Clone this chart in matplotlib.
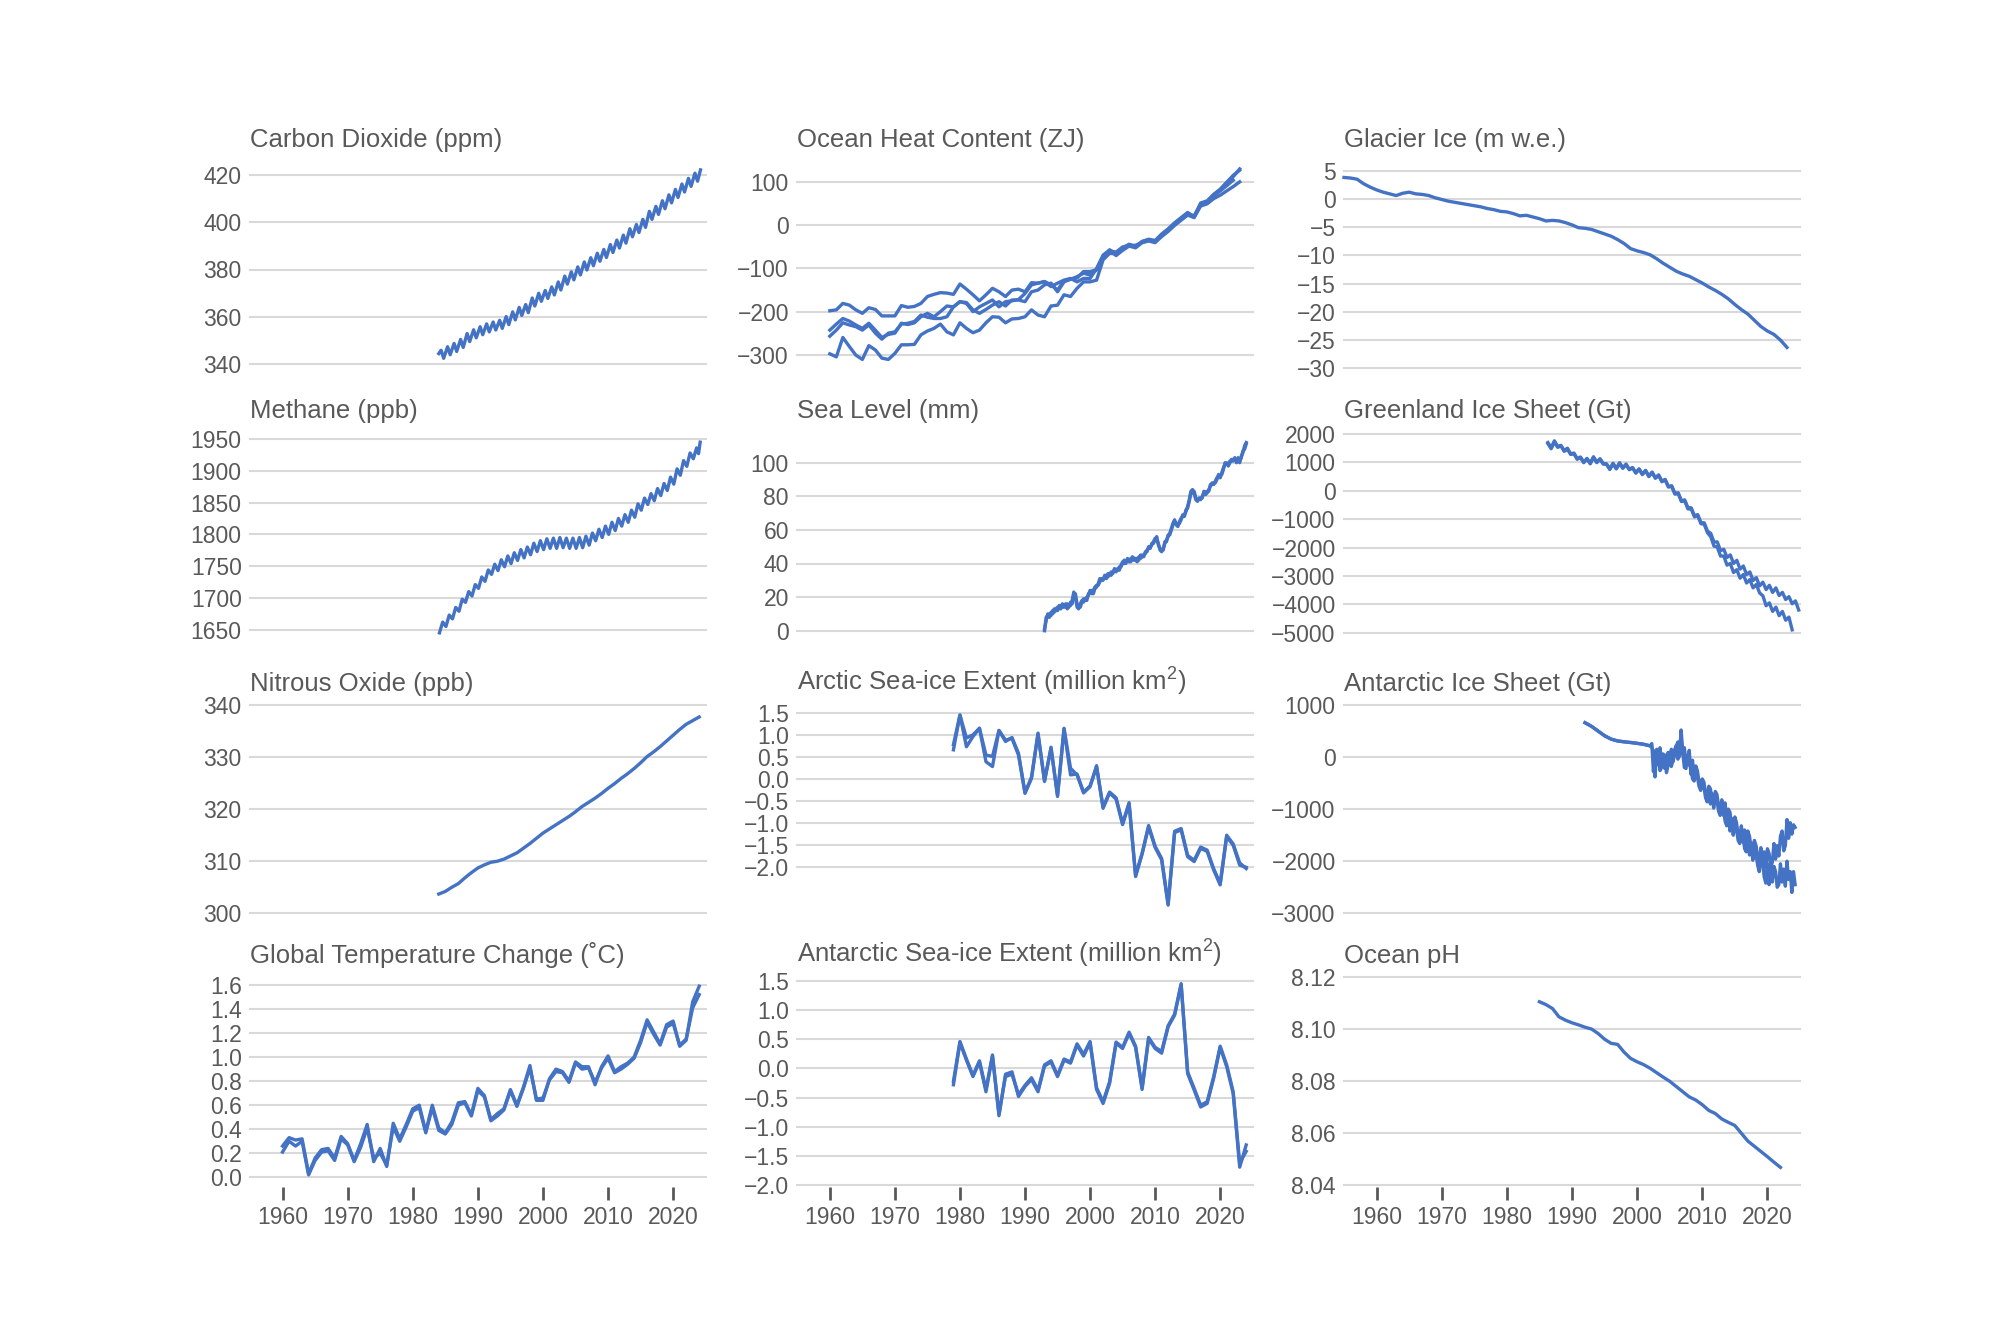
import numpy as np
import matplotlib.pyplot as plt

# ---------------- data ----------------
# Carbon dioxide, seasonal high / low per year 1984-2023 (ppm)
co2_years = np.arange(1984, 2024)
co2_hi = [345.7, 347.2, 348.6, 350.3, 352.8, 354.4, 355.7, 356.9, 357.7, 358.4,
          360.0, 362.0, 363.9, 365.1, 367.9, 369.9, 371.1, 372.6, 374.7, 377.2,
          379.0, 381.1, 383.2, 385.0, 386.9, 388.5, 390.6, 392.5, 394.6, 397.3,
          399.1, 401.3, 404.7, 406.8, 409.2, 411.7, 414.0, 416.3, 418.7, 420.9]
co2_lo = [342.3, 343.8, 345.2, 346.9, 349.4, 351.0, 352.3, 353.5, 354.3, 355.0,
          356.6, 358.6, 360.5, 361.7, 364.5, 366.5, 367.7, 369.2, 371.3, 373.8,
          375.6, 377.7, 379.8, 381.6, 383.5, 385.1, 387.2, 389.1, 391.2, 393.9,
          395.7, 397.9, 401.3, 403.4, 405.8, 408.3, 410.6, 412.9, 415.3, 417.5]
co2_end = (2024.2, 422.3)

# Ocean heat content (ZJ), four reconstructions
ohc_years = np.arange(1960, 2024)
ohc_a = [-198, -196, -181, -185, -196, -204, -191, -195, -210, -210,
         -210, -186, -190, -188, -181, -165, -160, -156, -157, -160,
         -136, -148, -161, -175, -161, -146, -154, -165, -150, -148,
         -154, -133, -134, -130, -138, -150, -128, -125, -122, -107,
         -107, -103, -75, -57, -64, -52, -44, -49, -37, -33,
         -37, -22, -10, 5, 17, 28, 21, 50, 55, 71,
         82, 98, 113, 131]
ohc_b = [-243, -229, -216, -222, -231, -239, -227, -243, -260, -253,
         -250, -227, -230, -226, -212, -204, -212, -200, -187, -189,
         -177, -179, -196, -204, -195, -185, -177, -187, -173, -173,
         -177, -154, -150, -138, -134, -154, -131, -125, -119, -111,
         -115, -103, -73, -61, -62, -50, -47, -46, -40, -35,
         -36, -24, -12, 2, 14, 26, 22, 47, 53, 68,
         80, 92, 105]
ohc_c = [-257, -243, -226, -231, -235, -243, -231, -250, -264, -250,
         -247, -229, -227, -223, -208, -213, -216, -216, -212, -189,
         -177, -181, -200, -189, -181, -173, -189, -177, -175, -172,
         -158, -138, -134, -131, -142, -134, -127, -123, -131, -123,
         -123, -100, -69, -57, -70, -58, -48, -52, -40, -36,
         -40, -26, -14, 0, 12, 24, 18, 45, 50, 62,
         70, 80, 90, 101]
ohc_d = [-298, -305, -260, -281, -301, -311, -279, -289, -308, -311,
         -297, -277, -277, -276, -254, -245, -239, -229, -247, -254,
         -226, -239, -249, -243, -226, -212, -213, -226, -217, -216,
         -212, -196, -208, -212, -187, -185, -161, -165, -146, -131,
         -131, -127, -80, -65, -66, -55, -44, -50, -38, -32,
         -35, -20, -8, 6, 18, 30, 20, 52, 57, 72,
         84, 100, 116, 128]

# Glacier ice, cumulative (m w.e.)
glacier_years = np.arange(1955, 2024)
glacier = [3.8, 3.7, 3.5, 2.7, 2.1,
           1.6, 1.2, 0.9, 0.6, 1.0, 1.2, 0.9, 0.8, 0.6, 0.2,
           -0.1, -0.4, -0.6, -0.8, -1.0, -1.2, -1.4, -1.7, -1.9, -2.2,
           -2.3, -2.6, -3.0, -2.9, -3.2, -3.5, -3.9, -3.8, -3.9, -4.2,
           -4.6, -5.1, -5.2, -5.4, -5.8, -6.2, -6.6, -7.2, -7.9, -8.8,
           -9.2, -9.5, -9.9, -10.6, -11.4, -12.1, -12.8, -13.3, -13.7, -14.3,
           -14.9, -15.6, -16.2, -16.9, -17.7, -18.7, -19.6, -20.4, -21.5, -22.6,
           -23.4, -24.0, -25.0, -26.3]

# Methane, seasonal low / high per year 1984-2023 (ppb)
ch4_years = np.arange(1984, 2024)
ch4_lo = [1645, 1655, 1667, 1679, 1693, 1703, 1715, 1726, 1737, 1743,
          1749, 1754, 1759, 1763, 1768, 1773, 1776, 1778, 1778, 1779,
          1778, 1778, 1779, 1783, 1790, 1795, 1800, 1806, 1813, 1819,
          1827, 1838, 1847, 1853, 1861, 1869, 1879, 1893, 1907, 1919]
ch4_hi = [1662, 1673, 1685, 1698, 1710, 1721, 1733, 1744, 1753, 1760,
          1766, 1771, 1776, 1780, 1786, 1790, 1793, 1794, 1795, 1794,
          1794, 1795, 1797, 1802, 1808, 1813, 1819, 1825, 1831, 1838,
          1848, 1857, 1864, 1872, 1880, 1890, 1903, 1916, 1928, 1936]
ch4_end_t = [2023.9, 2024.15]
ch4_end_v = [1927, 1945]

# Sea level (mm), quarterly 1993.0-2024.0, two records
sea_t = np.arange(1993, 2024.01, 0.25)
sea_level_a = [0, 8, 9, 10, 9, 12, 11, 13, 14, 13, 15, 14, 14, 16, 13, 15,
               15, 18, 23, 20, 14, 13, 16, 18, 17, 19, 18, 22, 23, 24, 22, 25,
               26, 28, 31, 30, 31, 32, 33, 32, 34, 33, 35, 36, 35, 37, 36, 39,
               41, 40, 41, 42, 41, 43, 42, 42, 42, 41, 44, 43, 44, 45, 46, 48,
               49, 50, 51, 53, 55, 54, 52, 48, 47, 49, 52, 54, 56, 58, 61, 64,
               66, 63, 62, 65, 67, 68, 69, 71, 74, 78, 83, 84, 82, 78, 77, 79,
               78, 80, 82, 81, 82, 84, 86, 88, 87, 89, 91, 92, 91, 94, 97, 99,
               100, 98, 100, 102, 101, 103, 100, 102, 100, 104, 106, 110, 112]
sea_level_b = [1, 6, 10, 8, 11, 10, 13, 12, 12, 15, 13, 16, 15, 14, 16, 14,
               17, 16, 21, 22, 16, 15, 14, 17, 19, 18, 20, 21, 24, 22, 24, 26,
               27, 27, 29, 31, 30, 33, 31, 34, 33, 35, 34, 37, 36, 36, 38, 38,
               40, 42, 40, 43, 42, 41, 44, 43, 43, 43, 42, 45, 45, 44, 47, 47,
               50, 49, 52, 52, 54, 56, 51, 49, 48, 48, 53, 53, 57, 57, 60, 63,
               65, 64, 63, 64, 66, 69, 68, 72, 73, 77, 82, 82, 83, 79, 78, 78,
               79, 79, 83, 82, 83, 83, 87, 87, 88, 88, 90, 93, 92, 93, 96, 100,
               99, 99, 101, 101, 102, 102, 101, 103, 101, 103, 107, 108, 111]

# Greenland ice sheet (Gt), two series, seasonal high / low per year
gis1_years = np.arange(1986, 2025)
gis1_hi = [1700, 1760, 1600, 1500, 1330, 1190, 1140, 1200, 1130, 950,
           970, 990, 940, 820, 770, 720, 660, 560, 400, 180,
           -70, -320, -600, -840, -1130, -1500, -1800, -2060, -2260, -2450,
           -2650, -2860, -3060, -3220, -3330, -3420, -3580, -3730, -3880]
gis1_lo = [1520, 1560, 1420, 1300, 1130, 1010, 970, 1010, 960, 770,
           790, 810, 760, 640, 590, 520, 460, 340, 150, -90,
           -350, -600, -880, -1120, -1420, -1810, -2110, -2350, -2560, -2760,
           -2950, -3160, -3350, -3480, -3580, -3690, -3830, -3980, -4200]
gis2_years = np.arange(1986, 2024)
gis2_hi = [1660, 1720, 1580, 1460, 1300, 1170, 1120, 1170, 1100, 930,
           950, 960, 920, 800, 760, 700, 640, 540, 380, 150,
           -100, -360, -640, -880, -1180, -1620, -1980, -2300, -2560, -2780,
           -2950, -3130, -3300, -3700, -3950, -4100, -4250, -4450]
gis2_lo = [1480, 1530, 1390, 1280, 1110, 990, 950, 990, 940, 750,
           770, 790, 740, 620, 570, 500, 440, 320, 130, -120,
           -380, -640, -920, -1160, -1480, -1950, -2300, -2620, -2880, -3080,
           -3250, -3420, -3600, -4050, -4250, -4400, -4560, -4900]

# Nitrous oxide (ppb)
n2o_years = np.arange(1984, 2025)
n2o = [303.7, 304.2, 305.0, 305.7, 306.8, 307.8, 308.7, 309.3, 309.8, 310.0,
       310.4, 311.0, 311.6, 312.5, 313.4, 314.4, 315.4, 316.2, 317.0, 317.8,
       318.6, 319.5, 320.5, 321.3, 322.1, 323.0, 324.0, 324.9, 325.9, 326.8,
       327.8, 328.9, 330.1, 331.0, 332.0, 333.1, 334.2, 335.3, 336.3, 337.0,
       337.7]

# Arctic sea-ice extent anomaly (million km2), two series
arctic_years = np.arange(1979, 2025)
arctic_a = [0.67, 1.46, 0.74, 0.97, 1.16, 0.40, 0.29, 1.11, 0.89, 0.93,
            0.55, -0.32, 0.02, 1.05, -0.05, 0.73, -0.39, 1.16, 0.25, 0.10,
            -0.31, -0.17, 0.31, -0.66, -0.31, -0.45, -1.03, -0.56, -2.21, -1.70,
            -1.08, -1.55, -1.83, -2.86, -1.21, -1.15, -1.76, -1.87, -1.57, -1.64,
            -2.06, -2.40, -1.30, -1.50, -1.95, -2.00]
arctic_b = [0.79, 1.46, 0.94, 1.01, 1.16, 0.55, 0.52, 1.11, 0.86, 0.95,
            0.59, -0.30, 0.05, 1.03, -0.03, 0.70, -0.36, 1.14, 0.10, 0.12,
            -0.29, -0.15, 0.28, -0.63, -0.29, -0.42, -1.00, -0.53, -2.18, -1.68,
            -1.05, -1.52, -1.80, -2.83, -1.18, -1.12, -1.73, -1.84, -1.54, -1.61,
            -2.03, -2.37, -1.27, -1.47, -1.90, -2.03]

# Antarctic ice sheet (Gt): early annual part, then two quarterly series
ais_years = np.arange(1992, 2003)
ais_early = [660, 590, 500, 410, 345, 310, 293, 280, 264, 245, 215]
ais_t = np.arange(2002.25, 2024.3, 0.25)
ais_a = [260, -280, 120,
         40, -150, 180, -60, 60, -220, -40, 90, -60, 150, -90, 40,
         210, 290, 60, 520, 100, 180, -120, -100, 130, -330, -60, -380,
         -170, -260, -480, -520, -420, -480, -700, -760, -560, -610, -820, -880,
         -660, -720, -930, -1020, -820, -1120, -880, -1210, -1000, -1060, -1320, -1390,
         -1150, -1260, -1480, -1560, -1320, -1640, -1400, -1700, -1420, -1520, -1760, -1860,
         -1600, -1700, -1920, -2000, -1740, -2060, -1820, -2120, -1760, -1850, -2120, -2020,
         -1660, -1960, -1700, -1900, -1520, -1420, -1800, -1700, -1200, -1560, -1260, -1480,
         -1300, -1350]
ais_b = [200, 60, -380,
         150, 90, -260, -200, 0, 40, -300, -160, 80, -180, -60, 140,
         220, -40, 20, 330, 90, -200, -220, 40, -150, -200, -420, -460,
         -300, -380, -560, -640, -500, -560, -780, -860, -640, -900, -700, -980,
         -760, -820, -1040, -1120, -930, -990, -1230, -1320, -1110, -1420, -1180, -1500,
         -1280, -1380, -1600, -1660, -1420, -1500, -1760, -1820, -1540, -1880, -1640, -1980,
         -1760, -1860, -2080, -2200, -1920, -2000, -2300, -2420, -2050, -2450, -2150, -2400,
         -2100, -2200, -2500, -2450, -2050, -2400, -2150, -2480, -2000, -2350, -2200, -2600,
         -2200, -2450]

# Global temperature change (deg C), two series
temp_years = np.arange(1960, 2025)
temp_a = [0.26, 0.33, 0.31, 0.32, 0.03, 0.16, 0.23, 0.24, 0.16, 0.34,
          0.28, 0.14, 0.28, 0.44, 0.13, 0.24, 0.09, 0.45, 0.32, 0.44,
          0.57, 0.60, 0.38, 0.60, 0.41, 0.37, 0.46, 0.62, 0.63, 0.52,
          0.74, 0.68, 0.48, 0.53, 0.57, 0.73, 0.60, 0.75, 0.93, 0.64,
          0.64, 0.82, 0.90, 0.88, 0.80, 0.96, 0.92, 0.92, 0.77, 0.92,
          1.01, 0.88, 0.92, 0.95, 1.00, 1.14, 1.31, 1.21, 1.11, 1.27,
          1.30, 1.09, 1.14, 1.46, 1.59]
temp_b = [0.21, 0.30, 0.26, 0.30, 0.02, 0.14, 0.21, 0.22, 0.14, 0.32,
          0.27, 0.13, 0.25, 0.41, 0.16, 0.20, 0.10, 0.42, 0.30, 0.42,
          0.55, 0.58, 0.37, 0.58, 0.39, 0.36, 0.44, 0.60, 0.62, 0.51,
          0.72, 0.67, 0.47, 0.51, 0.56, 0.72, 0.59, 0.74, 0.91, 0.65,
          0.66, 0.81, 0.88, 0.87, 0.79, 0.95, 0.90, 0.91, 0.79, 0.91,
          0.99, 0.87, 0.90, 0.94, 0.99, 1.12, 1.29, 1.19, 1.10, 1.25,
          1.28, 1.10, 1.15, 1.41, 1.52]

# Antarctic sea-ice extent anomaly (million km2), two series
antsea_years = np.arange(1979, 2025)
antsea_a = [-0.28, 0.44, 0.14, -0.14, 0.11, -0.40, 0.21, -0.81, -0.10, -0.06,
            -0.48, -0.31, -0.19, -0.40, 0.04, 0.11, -0.14, 0.14, 0.09, 0.40,
            0.21, 0.44, -0.36, -0.60, -0.26, 0.43, 0.34, 0.60, 0.36, -0.36,
            0.51, 0.34, 0.26, 0.71, 0.91, 1.43, -0.09, -0.37, -0.66, -0.60,
            -0.17, 0.36, 0.03, -0.43, -1.69, -1.31]
antsea_b = [-0.22, 0.46, 0.16, -0.12, 0.13, -0.36, 0.23, -0.78, -0.14, -0.10,
            -0.45, -0.29, -0.16, -0.37, 0.06, 0.13, -0.12, 0.16, 0.11, 0.42,
            0.24, 0.46, -0.33, -0.57, -0.23, 0.45, 0.36, 0.62, 0.38, -0.33,
            0.53, 0.36, 0.29, 0.73, 0.93, 1.45, -0.06, -0.34, -0.63, -0.57,
            -0.14, 0.38, 0.06, -0.40, -1.62, -1.42]

# Ocean pH
ph_years = np.arange(1985, 2023)
ph = [8.1106, 8.1095, 8.1080, 8.1048, 8.1035, 8.1025, 8.1017, 8.1008, 8.1001, 8.0984,
      8.0962, 8.0946, 8.0942, 8.0912, 8.0888, 8.0875, 8.0864, 8.0850, 8.0833, 8.0816,
      8.0800, 8.0780, 8.0760, 8.0740, 8.0728, 8.0710, 8.0688, 8.0676, 8.0655, 8.0642,
      8.0630, 8.0600, 8.0570, 8.0550, 8.0530, 8.0510, 8.0489, 8.0469]

x_ticks = [1960, 1970, 1980, 1990, 2000, 2010, 2020]

# ---------------- style ----------------
W, H = 2000, 1333
BLUE = "#4472C4"
GRID = "#D9D9D9"
TEXT = "#595959"

plt.rcParams["font.family"] = ["Liberation Sans", "DejaVu Sans"]
plt.rcParams["mathtext.fontset"] = "custom"
plt.rcParams["mathtext.rm"] = "Liberation Sans"
plt.rcParams["mathtext.it"] = "Liberation Sans:italic"

fig = plt.figure(figsize=(W / 100, H / 100), dpi=100)
fig.patch.set_facecolor("white")


def zigzag(years, first, second, off1, off2):
    t = np.column_stack([years + off1, years + off2]).ravel()
    v = np.column_stack([first, second]).ravel()
    return t, v


def panel(x0, x1, y_top, y_bot, yticks, fmt, title, title_y, xaxis_drop=None):
    ax = fig.add_axes([x0 / W, 1 - y_bot / H, (x1 - x0) / W, (y_bot - y_top) / H])
    ax.set_xlim(1955, 2025)
    ax.set_ylim(yticks[0], yticks[-1])
    ax.set_yticks(yticks)
    ax.set_yticklabels([fmt.format(v).replace("-", "\u2212") for v in yticks])
    ax.grid(axis="y", color=GRID, lw=1.5)
    for gl in ax.get_ygridlines():
        gl.set_clip_on(False)
    ax.set_axisbelow(True)
    for s in ax.spines.values():
        s.set_visible(False)
    ax.tick_params(axis="y", length=0, pad=6, labelsize=16.5, labelcolor=TEXT)
    if xaxis_drop is None:
        ax.tick_params(axis="x", bottom=False, labelbottom=False)
    else:
        ax.set_xticks(x_ticks)
        ax.spines["bottom"].set_position(("outward", xaxis_drop))
        ax.tick_params(axis="x", length=9, width=2, color=TEXT, pad=5,
                       labelsize=16.5, labelcolor=TEXT)
    ax.set_facecolor("none")
    fig.text(x0 / W, 1 - title_y / H, title, fontsize=18.5, color=TEXT,
             ha="left", va="baseline")
    return ax


def line(ax, t, v):
    ax.plot(t, v, color=BLUE, lw=2.4, clip_on=False, solid_joinstyle="round")


C1, C2, C3 = (250, 705.7), (797.3, 1252.7), (1344, 1800)
T1, T2, T3, T4 = 146.7, 418.3, 691.0, 962.7

# row 1
ax = panel(*C1, 175.3, 363.7, [340, 360, 380, 400, 420], "{:.0f}",
           "Carbon Dioxide (ppm)", T1)
t, v = zigzag(co2_years, co2_hi, co2_lo, 0.35, 0.75)
line(ax, np.r_[1984.0, t, co2_end[0]], np.r_[344.3, v, co2_end[1]])

ax = panel(*C2, 182.3, 354.7, [-300, -200, -100, 0, 100], "{:.0f}",
           "Ocean Heat Content (ZJ)", T1)
for s in (ohc_a, ohc_b, ohc_c, ohc_d):
    line(ax, ohc_years[:len(s)], s)

ax = panel(*C3, 170.7, 368.3, [-30, -25, -20, -15, -10, -5, 0, 5], "{:.0f}",
           "Glacier Ice (m w.e.)", T1)
line(ax, glacier_years, glacier)

# row 2
ax = panel(*C1, 439.0, 629.7, [1650, 1700, 1750, 1800, 1850, 1900, 1950], "{:.0f}",
           "Methane (ppb)", T2)
t, v = zigzag(ch4_years, ch4_lo, ch4_hi, 0.1, 0.6)
line(ax, np.r_[t, ch4_end_t], np.r_[v, ch4_end_v])

ax = panel(*C2, 462.7, 630.7, [0, 20, 40, 60, 80, 100], "{:.0f}",
           "Sea Level (mm)", T2)
line(ax, sea_t, sea_level_a)
line(ax, sea_t, sea_level_b)

ax = panel(*C3, 434.0, 632.7, [-5000, -4000, -3000, -2000, -1000, 0, 1000, 2000],
           "{:.0f}", "Greenland Ice Sheet (Gt)", T2)
t, v = zigzag(gis1_years, gis1_hi, gis1_lo, 0.3, 0.8)
line(ax, t, v)
t, v = zigzag(gis2_years, gis2_hi, gis2_lo, 0.3, 0.8)
line(ax, t, v)

# row 3
ax = panel(*C1, 705.0, 913.3, [300, 310, 320, 330, 340], "{:.0f}",
           "Nitrous Oxide (ppb)", T3)
line(ax, n2o_years, n2o)

ax = panel(*C2, 713.3, 867.3, [-2.0, -1.5, -1.0, -0.5, 0.0, 0.5, 1.0, 1.5], "{:.1f}",
           "Arctic Sea-ice Extent (million km$^2$)", T3)
line(ax, arctic_years, arctic_a)
line(ax, arctic_years, arctic_b)

ax = panel(*C3, 705.0, 913.3, [-3000, -2000, -1000, 0, 1000], "{:.0f}",
           "Antarctic Ice Sheet (Gt)", T3)
line(ax, np.r_[ais_years, ais_t], np.r_[ais_early, ais_a])
line(ax, np.r_[ais_years, ais_t], np.r_[ais_early, ais_b])

# row 4
ax = panel(*C1, 985.0, 1177.3, [0.0, 0.2, 0.4, 0.6, 0.8, 1.0, 1.2, 1.4, 1.6], "{:.1f}",
           "Global Temperature Change (\u02daC)", T4, xaxis_drop=6.8)
line(ax, temp_years, temp_a)
line(ax, temp_years, temp_b)

ax = panel(*C2, 980.7, 1185.3, [-2.0, -1.5, -1.0, -0.5, 0.0, 0.5, 1.0, 1.5], "{:.1f}",
           "Antarctic Sea-ice Extent (million km$^2$)", T4, xaxis_drop=1.0)
line(ax, antsea_years, antsea_a)
line(ax, antsea_years, antsea_b)

ax = panel(*C3, 977.3, 1185.3, [8.04, 8.06, 8.08, 8.10, 8.12], "{:.2f}",
           "Ocean pH", T4, xaxis_drop=1.0)
line(ax, ph_years, ph)

fig.savefig("out.png", dpi=100, facecolor="white")
